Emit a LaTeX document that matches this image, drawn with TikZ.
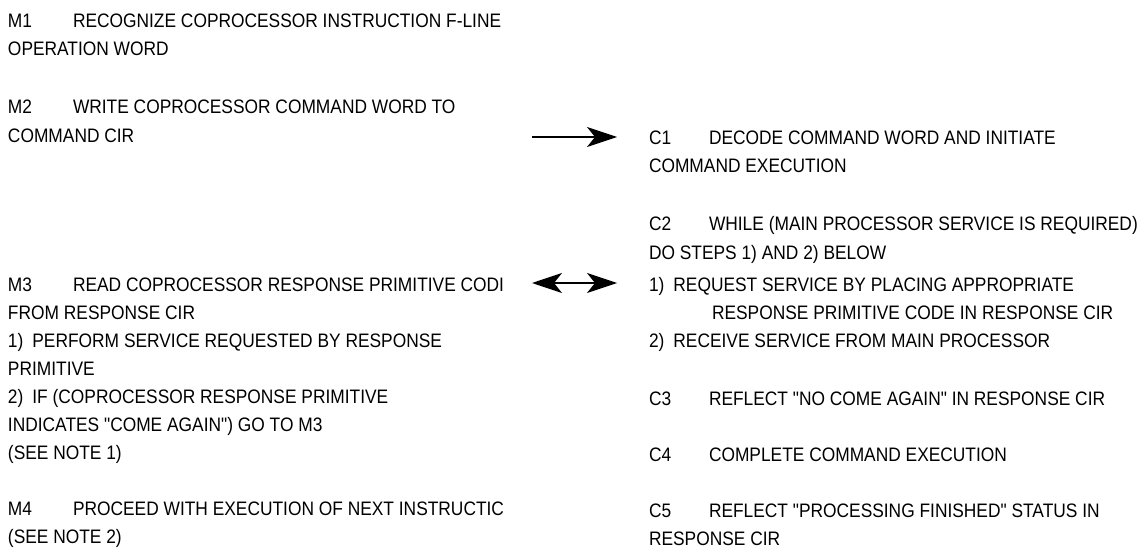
\documentclass[tikz,border=0pt]{standalone}
\usepackage{fontspec}
\newfontfamily\diafont{Liberation Sans}[FakeStretch=0.89]
\usetikzlibrary{arrows.meta}
\tikzset{
  txt/.style={anchor=base west, inner sep=0pt, outer sep=0pt, font=\diafont\fontsize{19.5pt}{22pt}\selectfont},
  conn/.style={line width=1.2pt, black, >={Stealth[length=30pt, width=20pt, inset=8pt]}}
}
\begin{document}
\begin{tikzpicture}[x=1pt, y=-1pt]
\useasboundingbox (0,0) rectangle (1143,556);
% left column (labels at x=8, text at x=73); the column is clipped at x=505
\begin{scope}
\clip (0,0) rectangle (505,556);
\node[txt] (m1) at (8,27.3) {M1};
\node[txt] (m1t) at (73,27.3) {RECOGNIZE COPROCESSOR INSTRUCTION F-LINE};
\node[txt] (m1b) at (8,56) {OPERATION WORD};
\node[txt] (m2) at (8,114) {M2};
\node[txt] (m2t) at (73,114) {WRITE COPROCESSOR COMMAND WORD TO};
\node[txt] (m2b) at (8,143) {COMMAND CIR};
\node[txt] (m3) at (8,291) {M3};
\node[txt] (m3t) at (73,291) {READ COPROCESSOR RESPONSE PRIMITIVE CODI};
\node[txt] (m3b) at (8,319) {FROM RESPONSE CIR};
\node[txt] (m3c) at (8,347) {1)\hspace{9pt}PERFORM SERVICE REQUESTED BY RESPONSE};
\node[txt] (m3d) at (8,375) {PRIMITIVE};
\node[txt] (m3e) at (8,403) {2)\hspace{9pt}IF (COPROCESSOR RESPONSE PRIMITIVE};
\node[txt] (m3f) at (8,431) {INDICATES "COME AGAIN") GO TO M3};
\node[txt] (m3g) at (8,459) {(SEE NOTE 1)};
\node[txt] (m4) at (8,515.5) {M4};
\node[txt] (m4t) at (73,515.5) {PROCEED WITH EXECUTION OF NEXT INSTRUCTIC};
\node[txt] (m4b) at (8,543) {(SEE NOTE 2)};
\end{scope}
% right column (labels at x=649, text at x=709)
\node[txt] (c1) at (649,145) {C1};
\node[txt] (c1t) at (709,145) {DECODE COMMAND WORD AND INITIATE};
\node[txt] (c1b) at (649,173) {COMMAND EXECUTION};
\node[txt] (c2) at (649,231) {C2};
\node[txt] (c2t) at (709,231) {WHILE (MAIN PROCESSOR SERVICE IS REQUIRED)};
\node[txt] (c2b) at (649,259) {DO STEPS 1) AND 2) BELOW};
\node[txt] (c2c) at (649,291) {1)\hspace{9pt}REQUEST SERVICE BY PLACING APPROPRIATE};
\node[txt] (c2d) at (712,319) {RESPONSE PRIMITIVE CODE IN RESPONSE CIR};
\node[txt] (c2e) at (649,347) {2)\hspace{9pt}RECEIVE SERVICE FROM MAIN PROCESSOR};
\node[txt] (c3) at (649,405) {C3};
\node[txt] (c3t) at (709,405) {REFLECT "NO COME AGAIN" IN RESPONSE CIR};
\node[txt] (c4) at (649,461) {C4};
\node[txt] (c4t) at (709,461) {COMPLETE COMMAND EXECUTION};
\node[txt] (c5) at (649,517) {C5};
\node[txt] (c5t) at (709,517) {REFLECT "PROCESSING FINISHED" STATUS IN};
\node[txt] (c5b) at (649,545) {RESPONSE CIR};
% connectors
\coordinate (a1s) at (532,137);
\coordinate (a1e) at (617,137);
\coordinate (a2s) at (532,283);
\coordinate (a2e) at (617,283);
\draw[conn, ->] (a1s) -- (a1e);
\draw[conn, <->] (a2s) -- (a2e);
\end{tikzpicture}
\end{document}
